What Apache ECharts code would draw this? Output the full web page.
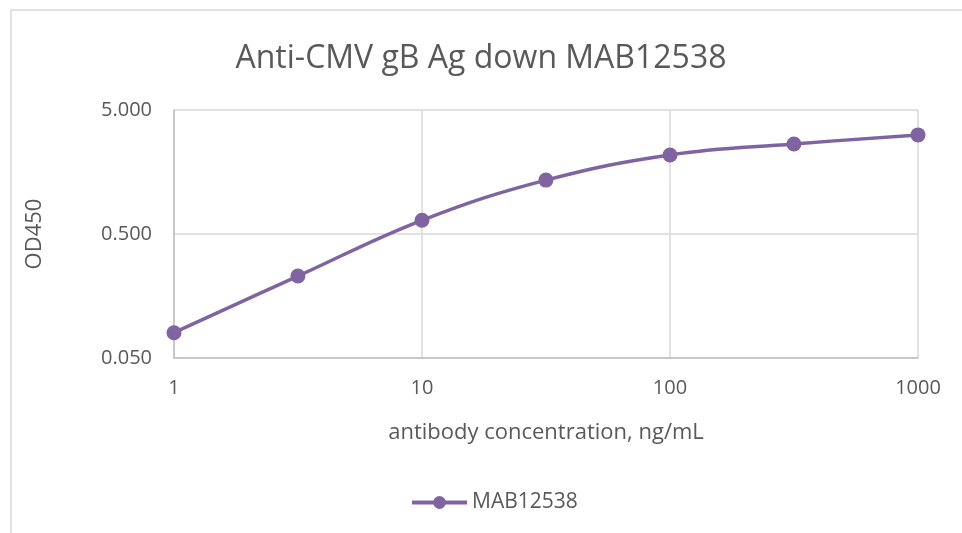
<!DOCTYPE html>
<html><head><meta charset="utf-8">
<script src="https://cdn.jsdelivr.net/npm/echarts@6/dist/echarts.min.js"></script>
<style>html,body{margin:0;padding:0;background:#fff}#c{width:962px;height:533px}</style>
</head><body><div id="c"></div>
<script>
const titleText = "Anti-CMV gB Ag down MAB12538";
const seriesName = "MAB12538";
const concentrations = [1, 3.16, 10, 31.6, 100, 316, 1000];
const od450 = [0.080, 0.229, 0.645, 1.36, 2.17, 2.66, 3.15];
const yTicks = [0.05, 0.5, 5];
const xTicks = [1, 10, 100, 1000];

const chart = echarts.init(document.getElementById('c'), null, {renderer: 'canvas'});
const font = "'Open Sans', sans-serif";
chart.setOption({
  animation: false,
  backgroundColor: '#fff',
  graphic: [{type: 'rect', shape: {x: 11, y: 10, width: 970, height: 540}, style: {fill: 'none', stroke: '#d9d9d9', lineWidth: 1.5}, silent: true}],
  title: {text: titleText, left: 'center', top: 38, textStyle: {fontFamily: font, fontSize: 32, fontWeight: 'normal', color: '#595959'}},
  grid: {left: 174, right: 44, top: 110, bottom: 175},
  legend: {bottom: 15, left: 405, itemWidth: 55, itemHeight: 16, itemGap: 4, data: [seriesName],
    lineStyle: {width: 4},
    textStyle: {fontFamily: font, fontSize: 21, color: '#595959'}},
  xAxis: {type: 'log', logBase: 10, min: xTicks[0], max: xTicks[xTicks.length - 1],
    name: 'antibody concentration, ng/mL', nameLocation: 'middle', nameGap: 64,
    nameTextStyle: {fontFamily: font, fontSize: 22, color: '#595959'},
    axisLine: {show: true, lineStyle: {color: '#bfbfbf', width: 1.5}},
    axisTick: {show: false},
    axisLabel: {fontFamily: font, fontSize: 20, color: '#595959', margin: 20,
      formatter: v => String(Number(Number(v).toPrecision(1)))},
    splitLine: {show: true, lineStyle: {color: '#d9d9d9', width: 1.5}}},
  yAxis: {type: 'log', logBase: 10, min: yTicks[0], max: yTicks[yTicks.length - 1], interval: 1,
    name: 'OD450', nameLocation: 'middle', nameGap: 128, nameRotate: 90,
    nameTextStyle: {fontFamily: font, fontSize: 22, color: '#595959'},
    axisLine: {show: true, lineStyle: {color: '#bfbfbf', width: 1.5}},
    axisTick: {show: false},
    axisLabel: {fontFamily: font, fontSize: 20, color: '#595959', margin: 22,
      formatter: v => Number(Number(v).toPrecision(1)).toFixed(3)},
    splitLine: {show: true, lineStyle: {color: '#d9d9d9', width: 1.5}}},
  series: [{name: seriesName, type: 'line', smooth: 0.4,
    data: concentrations.map((c, i) => [c, od450[i]]),
    symbol: 'circle', symbolSize: 15,
    itemStyle: {color: '#8064a2'},
    lineStyle: {color: '#8064a2', width: 3.5}}]
});
</script></body></html>
